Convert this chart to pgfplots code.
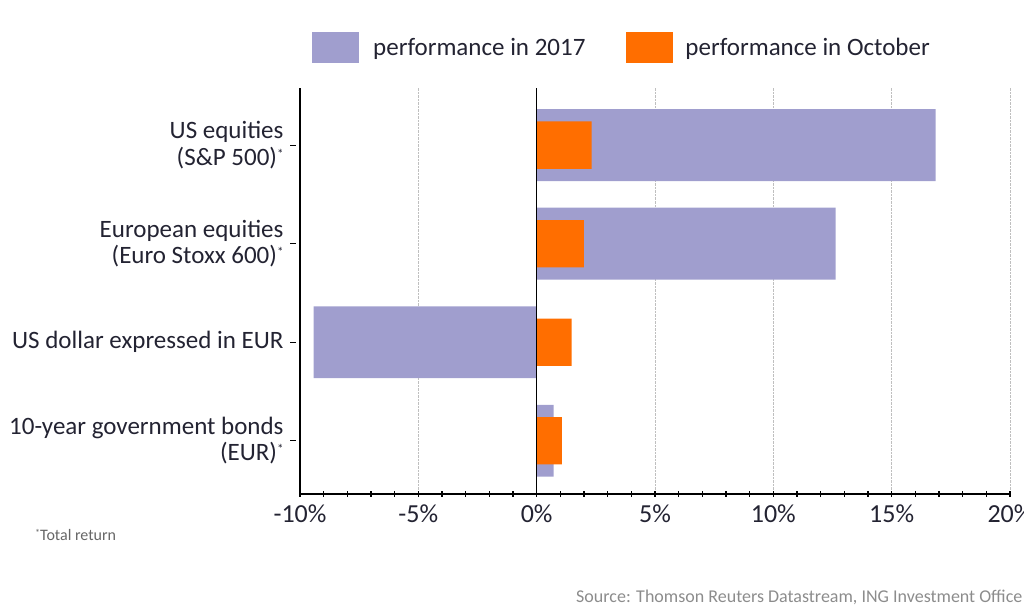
\documentclass[border=0pt]{standalone}
\usepackage{pgfplots}
\pgfplotsset{compat=1.18}
\usepackage{fontspec}
\setmainfont{Carlito}
\definecolor{ingpurple}{RGB}{160,158,206}
\definecolor{ingorange}{RGB}{255,110,0}
\definecolor{txt}{RGB}{35,35,50}
\newcommand{\st}{\raisebox{0.28em}{\fontsize{13bp}{13bp}\selectfont*}}
\begin{document}
\begin{tikzpicture}[x=1bp,y=1bp]
\path[use as bounding box] (0,0) rectangle (1024,605);
\begin{axis}[
  at={(300bp,111bp)}, anchor=south west,
  scale only axis, width=710bp, height=406bp,
  xmin=-10, xmax=20, ymin=-0.54, ymax=3.58,
  xbar, bar shift=0pt,
  axis x line=bottom, axis y line=left,
  axis line style={black, line width=1.6bp, -},
  xtick={-10,-5,0,5,10,15,20},
  minor x tick num=4,
  xticklabel={\pgfmathprintnumber{\tick}\%},
  /pgf/number format/assume math mode=true,
  x tick label style={font=\fontsize{26bp}{30bp}\selectfont\color{txt}, yshift=-4bp},
  ytick={0,1,2,3},
  yticklabels={{10-year government bonds\\(EUR)\st},
               {US dollar expressed in EUR},
               {European equities\\(Euro Stoxx 600)\st},
               {US equities\\(S\&P 500)\st}},
  y tick label style={font=\fontsize{25bp}{26.5bp}\selectfont\color{txt}, align=right, xshift=-10bp},
  major tick length=6bp, minor tick length=6bp,
  tick style={black, line width=1.2bp},
  y tick style={xshift=-7bp},
  xmajorgrids, ymajorgrids=false,
  major grid style={densely dotted, gray!50, line width=0.9bp},
  legend columns=2,
  legend style={at={(0.0169,1.138)}, anchor=north west, draw=none, fill=none,
    inner sep=0pt, font=\fontsize{25bp}{28bp}\selectfont\color{txt},
    /tikz/every even column/.append style={column sep=41bp},
    nodes={inner sep=0pt, anchor=west}},
  legend image code/.code={\fill[#1] (0bp,-15.5bp) rectangle (47bp,15.5bp);},
  legend cell align=left,
]
\addplot[fill=ingpurple, draw=none, bar width=0.73] coordinates {(0.72,0) (-9.42,1) (12.63,2) (16.86,3)};
\addlegendentry{\hspace{14bp}performance in 2017}
\addplot[fill=ingorange, draw=none, bar width=0.48] coordinates {(1.06,0) (1.48,1) (1.99,2) (2.32,3)};
\addlegendentry{\hspace{12bp}performance in October}
\draw[black, line width=1.6bp] (axis cs:0,-0.54) -- (axis cs:0,3.58);
\end{axis}
\node[anchor=west, font=\fontsize{16bp}{18bp}\selectfont, text=gray!80!black, inner sep=0pt] at (35,70) {\raisebox{0.25em}{\fontsize{10bp}{10bp}\selectfont*}Total return};
\node[anchor=west, font=\fontsize{18bp}{20bp}\selectfont, text=gray!90, inner sep=0pt] at (576,8) {Source: Thomson Reuters Datastream, ING Investment Office};
\end{tikzpicture}
\end{document}
